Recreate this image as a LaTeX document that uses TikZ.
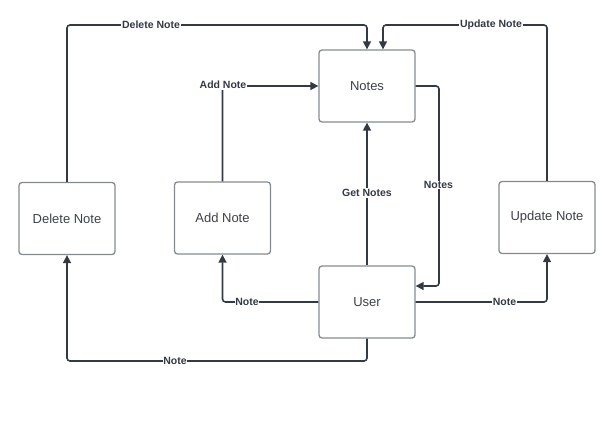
\documentclass[tikz,border=0pt]{standalone}
\usepackage{fontspec}
\setmainfont{Liberation Sans}
\usetikzlibrary{arrows.meta}
\definecolor{ln}{HTML}{333A45}
\definecolor{bd}{HTML}{858A91}
\definecolor{tx}{HTML}{3C4048}
\begin{document}
\begin{tikzpicture}[x=1pt,y=-1pt,
  box/.style={draw=bd, line width=1.3pt, rounded corners=3pt, minimum width=96pt, minimum height=72pt, text=tx, font=\fontsize{13}{15}\selectfont, inner sep=0pt},
  conn/.style={draw=ln, line width=1.6pt, rounded corners=3pt, -{Triangle[length=8pt,width=8pt]}},
  lbl/.style={fill=white, inner sep=0.8pt, text=ln, font=\bfseries\fontsize{10.5}{12}\selectfont}]
\useasboundingbox (0,0) rectangle (614,434);
\node[box] (notes) at (367,86) {Notes};
\node[box] (del) at (67,218.5) {Delete Note};
\node[box] (add) at (222.5,218) {Add Note};
\node[box] (upd) at (547,217.5) {Update Note};
\node[box] (user) at (367,302) {User};
\coordinate (top) at (0,25);
\coordinate (ret) at (0,286);
\coordinate (bot) at (0,361);
\coordinate (nx) at (439,0);
% connectors
\draw[conn] (del.north) -- (del.north |- top) -| (notes.north);
\draw[conn] (upd.north) -- (upd.north |- top) -| ([xshift=16pt]notes.north);
\draw[conn] (add.north) |- (notes.west);
\draw[conn] (user.north) -- (notes.south);
\draw[conn] (notes.east) -| (nx |- ret) -- (user.east |- ret);
\draw[conn] (user.west) -| (add.south);
\draw[conn] (user.east) -| (upd.south);
\draw[conn] (user.south) -- (user.south |- bot) -| (del.south);
% labels
\node[lbl] (l1) at (151,25) {Delete Note};
\node[lbl] (l2) at (491,25) {Update Note};
\node[lbl] (l3) at (223,85) {Add Note};
\node[lbl] (l4) at (367,193) {Get Notes};
\node[lbl] (l5) at (438.5,185) {Notes};
\node[lbl] (l6) at (247,302) {Note};
\node[lbl] (l7) at (504.5,302) {Note};
\node[lbl] (l8) at (175,361) {Note};
\end{tikzpicture}
\end{document}
